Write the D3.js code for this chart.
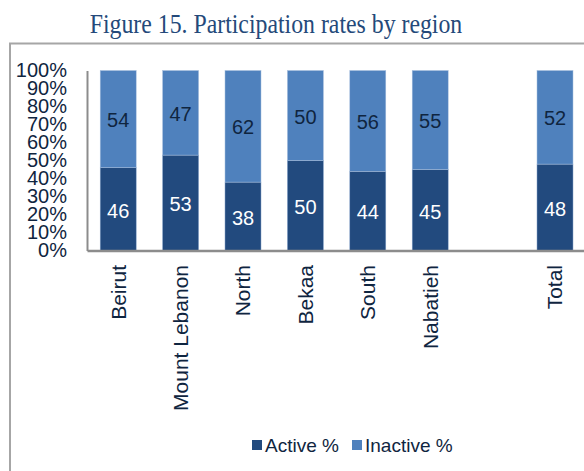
<!DOCTYPE html>
<html>
<head>
<meta charset="utf-8">
<script src="https://cdn.jsdelivr.net/npm/d3@7"></script>
<style>
  body { margin: 0; background: #fff; }
  svg { display: block; }
</style>
</head>
<body>
<svg id="chart"></svg>
<script>
// Chart data
var regions = ["Beirut", "Mount Lebanon", "North", "Bekaa", "South", "Nabatieh", "", "Total"];
var activePct = [46, 53, 38, 50, 44, 45, null, 48];
var inactivePct = [54, 47, 62, 50, 56, 55, null, 52];
var yTicks = [0, 10, 20, 30, 40, 50, 60, 70, 80, 90, 100];
var seriesNames = ["Active %", "Inactive %"];

var width = 584, height = 471;
var darkBlue = "#224a7e", lightBlue = "#4f81bd", textNavy = "#0f2540";

var svg = d3.select("#chart")
    .attr("width", width)
    .attr("height", height);

// Outer frame (only left and top are visible in the crop)
svg.append("path")
    .attr("d", "M10,471 V43.5 H584")
    .attr("fill", "none")
    .attr("stroke", "#a6a6a6")
    .attr("stroke-width", 2);

// Title (slightly tall letters, as in the original)
svg.append("text")
    .attr("transform", "translate(276,33) scale(1,1.12)")
    .attr("text-anchor", "middle")
    .attr("font-family", "Liberation Serif, Times New Roman, serif")
    .attr("font-size", 23.8)
    .attr("fill", "#24497a")
    .text("Figure 15. Participation rates by region");

var x = d3.scaleBand()
    .domain(d3.range(regions.length))
    .range([87, 87 + 62.4 * regions.length])
    .paddingInner(0.423)
    .paddingOuter(0.2115);

var y = d3.scaleLinear()
    .domain([0, 100])
    .range([250.5, 70.5]);

var rows = regions.map(function(r, i) {
  return { name: r, i: i, active: activePct[i], inactive: inactivePct[i] };
}).filter(function(d) { return d.active != null; });

// Bars: active at the bottom, inactive stacked on top
var bars = svg.append("g");
bars.selectAll(".active")
    .data(rows)
  .enter().append("rect")
    .attr("x", d => x(d.i))
    .attr("width", x.bandwidth())
    .attr("y", d => y(d.active))
    .attr("height", d => y(0) - y(d.active))
    .attr("fill", darkBlue)
    .attr("stroke", "#8aa6cc")
    .attr("stroke-width", 0.5);

bars.selectAll(".inactive")
    .data(rows)
  .enter().append("rect")
    .attr("x", d => x(d.i))
    .attr("width", x.bandwidth())
    .attr("y", d => y(d.active + d.inactive))
    .attr("height", d => y(d.active) - y(d.active + d.inactive))
    .attr("fill", lightBlue)
    .attr("stroke", "#a9c0de")
    .attr("stroke-width", 0.5);

// Value labels
var labels = svg.append("g")
    .attr("font-family", "Liberation Sans, Arial, sans-serif")
    .attr("font-size", 20)
    .attr("text-anchor", "middle");

labels.selectAll(".lbl-a")
    .data(rows)
  .enter().append("text")
    .attr("x", d => x(d.i) + x.bandwidth() / 2)
    .attr("y", d => (y(0) + y(d.active)) / 2 + 1.5)
    .attr("dy", "0.35em")
    .attr("fill", "#ffffff")
    .text(d => d.active);

labels.selectAll(".lbl-i")
    .data(rows)
  .enter().append("text")
    .attr("x", d => x(d.i) + x.bandwidth() / 2)
    .attr("y", d => (y(d.active) + y(d.active + d.inactive)) / 2 + 1)
    .attr("dy", "0.35em")
    .attr("fill", textNavy)
    .text(d => d.inactive);

// Y axis
var yAxis = svg.append("g")
    .attr("transform", "translate(87,0)")
    .call(d3.axisLeft(y).tickValues(yTicks).tickSize(0).tickPadding(20)
      .tickFormat(d => d + "%"));
yAxis.select(".domain").attr("stroke", "#8c8c8c").attr("stroke-width", 2);
yAxis.selectAll("text")
    .attr("font-family", "Liberation Sans, Arial, sans-serif")
    .attr("font-size", 20)
    .attr("fill", textNavy);

// X axis with rotated category names
var xAxis = svg.append("g")
    .attr("transform", "translate(0," + y(0) + ")")
    .call(d3.axisBottom(x).tickSize(0).tickFormat(i => regions[i]));
xAxis.select(".domain").attr("stroke", "#8c8c8c").attr("stroke-width", 2.5);
xAxis.selectAll("text")
    .attr("font-family", "Liberation Sans, Arial, sans-serif")
    .attr("font-size", 21)
    .attr("fill", textNavy)
    .attr("text-anchor", "end")
    .attr("transform", "rotate(-90)")
    .attr("x", -14.5)
    .attr("y", 0)
    .attr("dy", "0.35em");

// Legend
var legend = svg.append("g")
    .attr("font-family", "Liberation Sans, Arial, sans-serif")
    .attr("font-size", 19)
    .attr("fill", textNavy);
var legendX = [252, 352];
var legendColors = [darkBlue, lightBlue];
seriesNames.forEach(function(name, k) {
  legend.append("rect")
      .attr("x", legendX[k])
      .attr("y", 440)
      .attr("width", 10)
      .attr("height", 10)
      .attr("fill", legendColors[k]);
  legend.append("text")
      .attr("x", legendX[k] + 13)
      .attr("y", 445)
      .attr("dy", "0.35em")
      .text(name);
});
</script>
</body>
</html>
